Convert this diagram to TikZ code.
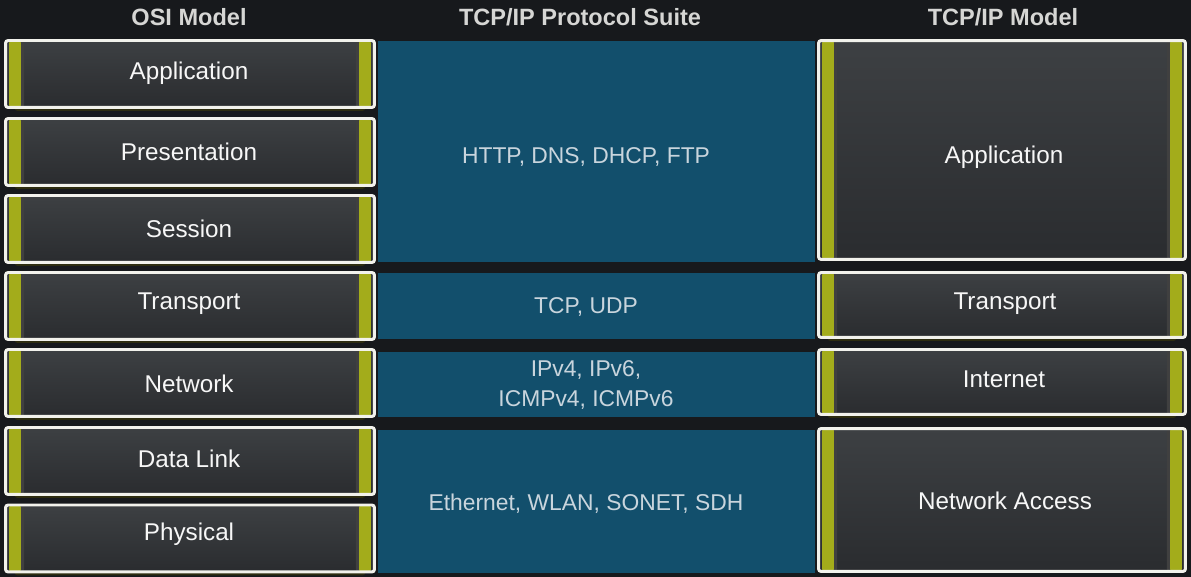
\documentclass[tikz,border=0pt]{standalone}
\usepackage{fontspec}
\setmainfont{Liberation Sans}
\usepackage{tikz}
\usetikzlibrary{calc,positioning,shadows}
\definecolor{pagedark}{HTML}{17191C}
\definecolor{boxtop}{HTML}{3D4043}
\definecolor{boxbot}{HTML}{2A2C2F}
\definecolor{barolive}{HTML}{A3AC1B}
\definecolor{rimwhite}{HTML}{F2F2EC}
\definecolor{suiteblue}{HTML}{124F6C}
\definecolor{suitetext}{HTML}{C9D5DD}
\definecolor{headgrey}{HTML}{D6D6D4}
\definecolor{shadeolive}{HTML}{2E2D10}
\tikzset{
  layer/.style={rectangle, rounded corners=1.5pt, draw=rimwhite, line width=1.7pt,
                top color=boxtop, bottom color=boxbot, inner sep=0pt,
                drop shadow={shadow xshift=0pt, shadow yshift=-3pt, shadow scale=0.95,
                             fill=shadeolive, opacity=1},
                path picture={
                  \fill[barolive] ($(path picture bounding box.south west)+(0.07cm,0)$)
                    rectangle ($(path picture bounding box.north west)+(0.31cm,0)$);
                  \fill[black!75] ($(path picture bounding box.south west)+(0.31cm,0)$)
                    rectangle ($(path picture bounding box.north west)+(0.37cm,0)$);
                  \fill[barolive] ($(path picture bounding box.south east)+(-0.07cm,0)$)
                    rectangle ($(path picture bounding box.north east)+(-0.31cm,0)$);
                  \fill[black!75] ($(path picture bounding box.south east)+(-0.31cm,0)$)
                    rectangle ($(path picture bounding box.north east)+(-0.37cm,0)$);
                }},
  osilayer/.style={layer, minimum width=7.38cm, minimum height=1.34cm},
  tcplayer/.style={layer, minimum width=7.34cm},
  layertext/.style={text=white!94!gray, font=\fontsize{13.8}{16}\selectfont},
  band/.style={rectangle, fill=suiteblue, inner sep=0pt, minimum width=8.74cm},
  bandtext/.style={text=suitetext, font=\fontsize{13}{17}\selectfont, align=center},
  heading/.style={text=headgrey, font=\fontsize{13.4}{16}\selectfont\bfseries}
}

\begin{document}
\begin{tikzpicture}[x=0.02cm, y=-0.02cm]
  \useasboundingbox (0,0) rectangle (1191,577);
  \fill[pagedark] (0,0) rectangle (1191,577);

  % column headings
  \node[heading] (hosi)   at ( 189,17) {OSI Model};
  \node[heading] (hsuite) at ( 580,17) {TCP/IP Protocol Suite};
  \node[heading] (htcp)   at (1003,17) {TCP/IP Model};

  % protocol suite bands
  \node[band, minimum height=4.42cm] (bapp) at (596.5,151.5) {};
  \node[band, minimum height=1.32cm] (btra) at (596.5,306) {};
  \node[band, minimum height=1.30cm] (bnet) at (596.5,384.5) {};
  \node[band, minimum height=2.86cm] (blnk) at (596.5,501.5) {};
  \node[bandtext] (tapp) at (586,157) {HTTP, DNS, DHCP, FTP};
  \node[bandtext] (ttra) at (586,307) {TCP, UDP};
  \node[bandtext] (tnet) at (586,385) {IPv4, IPv6,\\ICMPv4, ICMPv6};
  \node[bandtext] (tlnk) at (586,504) {Ethernet, WLAN, SONET, SDH};

  % OSI model
  \node[osilayer] (oapp) at (190,74)    {};
  \node[osilayer] (opre) at (190,152)   {};
  \node[osilayer] (oses) at (190,229)   {};
  \node[osilayer] (otra) at (190,306)   {};
  \node[osilayer] (onet) at (190,383)   {};
  \node[osilayer] (olnk) at (190,461)   {};
  \node[osilayer] (ophy) at (190,538.5) {};
  \node[layertext] (loapp) at (189,73)  {Application};
  \node[layertext] (lopre) at (189,152) {Presentation};
  \node[layertext] (loses) at (189,229) {Session};
  \node[layertext] (lotra) at (189,304) {Transport};
  \node[layertext] (lonet) at (189,384) {Network};
  \node[layertext] (lolnk) at (189,459) {Data Link};
  \node[layertext] (lophy) at (189,534) {Physical};

  % TCP/IP model
  \node[tcplayer, minimum height=4.38cm] (mapp) at (1002,150) {};
  \node[tcplayer, minimum height=1.30cm] (mtra) at (1002,305) {};
  \node[tcplayer, minimum height=1.30cm] (mint) at (1002,382) {};
  \node[tcplayer, minimum height=2.86cm] (macc) at (1002,500) {};
  \node[layertext] (lmapp) at (1004,157) {Application};
  \node[layertext] (lmtra) at (1005,304) {Transport};
  \node[layertext] (lmint) at (1004,379) {Internet};
  \node[layertext] (lmacc) at (1005,501) {Network Access};
\end{tikzpicture}
\end{document}
